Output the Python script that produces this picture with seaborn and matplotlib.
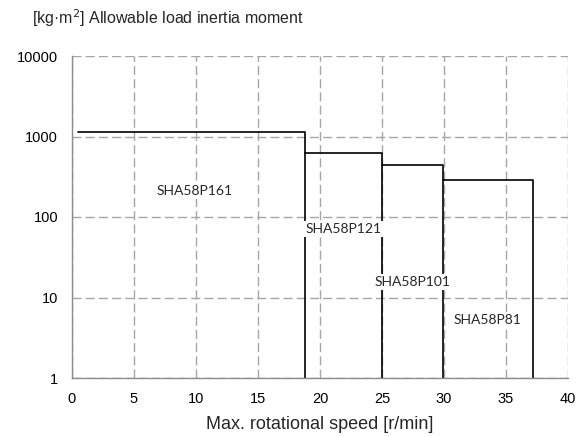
import numpy as np
import pandas as pd
import matplotlib
matplotlib.use("Agg")
import matplotlib.pyplot as plt
import seaborn as sns

# allowable load inertia per model, step ends at max speed
models = ["SHA58P161", "SHA58P121", "SHA58P101", "SHA58P81"]
max_speed = [18.75, 25.0, 29.9, 37.2]
inertia = [1130, 630, 445, 290]
first_start = 0.5

# where the model names sit (data coords)
label_x = [9.9, 21.9, 27.5, 33.5]
label_y = [210, 71, 15.4, 5.3]

sns.set_theme(style="white")
plt.rcParams["font.family"] = ["Liberation Sans", "DejaVu Sans"]

fig = plt.figure(figsize=(5.78, 4.37), dpi=100)
ax = fig.add_axes([72 / 578, 1 - 378 / 437, 496 / 578, 322 / 437])

starts = [first_start] + max_speed[:-1]
for m, x0, x1, y in zip(models, starts, max_speed, inertia):
    seg = pd.DataFrame({"speed": [x0, x1, x1], "J": [y, y, 1]})
    sns.lineplot(data=seg, x="speed", y="J", sort=False, estimator=None,
                 color="black", linewidth=1.2, ax=ax)

ax.set_yscale("log")
ax.set_xlim(0, 40)
ax.set_ylim(1, 10000)
ax.set_xticks(np.arange(0, 41, 5))
ax.set_yticks([1, 10, 100, 1000, 10000])
ax.set_yticklabels(["1", "10", "100", "1000", "10000"])
ax.minorticks_off()

ax.grid(True, color="#a6a6a6", linestyle=(0, (6.5, 3)), linewidth=1.0)
ax.set_axisbelow(True)
for s in ["top", "right"]:
    ax.spines[s].set_visible(False)
for s in ["left", "bottom"]:
    ax.spines[s].set_color("#8c8c8c")
    ax.spines[s].set_linewidth(1.0)
    ax.spines[s].set_zorder(3)

ax.tick_params(axis="both", which="major", direction="out", length=4, width=1,
               color="#8c8c8c", labelsize=10.5, labelcolor="black", pad=6)
ax.tick_params(axis="y", pad=6)

ax.set_xlabel("Max. rotational speed [r/min]", fontsize=13, labelpad=7)
ax.set_ylabel("")

for m, lx, ly in zip(models, label_x, label_y):
    ax.text(lx, ly, m, ha="center", va="center", fontsize=10,
            family=["Lato", "DejaVu Sans"], zorder=4,
            bbox=dict(facecolor="white", edgecolor="none", pad=1.5))

fig.text(32 / 578, 1 - 18 / 437, "[kg·m$^2$] Allowable load inertia moment",
         ha="left", va="center", fontsize=11.5)

fig.savefig("out.png", dpi=100)
